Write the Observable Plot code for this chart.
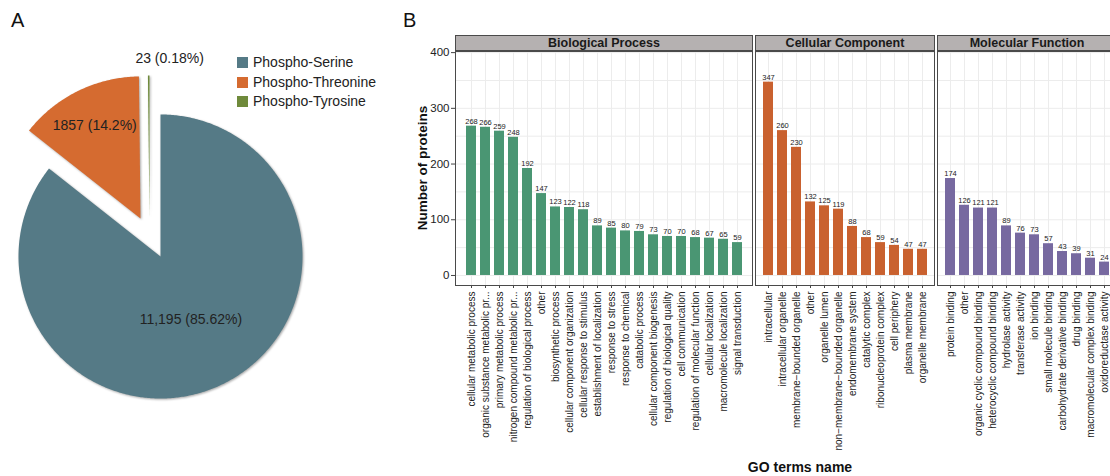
<!DOCTYPE html>
<html><head><meta charset="utf-8">
<script src="https://cdn.jsdelivr.net/npm/d3@7"></script>
<script src="https://cdn.jsdelivr.net/npm/@observablehq/plot@0.6"></script>
<style>
body{margin:0;background:#fff;font-family:Arial,"Liberation Sans",sans-serif;}
#root{position:relative;width:1110px;height:476px;overflow:hidden;background:#fff}
.abs{position:absolute}
.strip{position:absolute;top:35px;height:16px;background:#B5B1B1;border:1px solid #4a4a4a;box-sizing:border-box;font-weight:bold;font-size:12.5px;text-align:center;line-height:14px;color:#1a1a1a;white-space:nowrap;overflow:hidden}
.panelLetter{position:absolute;font-size:20px;color:#111;line-height:20px}
.leg{position:absolute;font-size:14px;color:#222;line-height:16px;white-space:nowrap}
.leg span{display:inline-block;width:11px;height:11px;margin-right:5px;vertical-align:-1px}
</style></head><body><div id="root"></div>
<script>
// ---------- Data ----------
const pieNames = ["Phospho-Serine", "Phospho-Threonine", "Phospho-Tyrosine"];
const pieCounts = [11195, 1857, 23];
const pieLabels = ["11,195 (85.62%)", "1857 (14.2%)", "23 (0.18%)"];

const bpTerms = ["cellular metabolic process", "organic substance metabolic pr...", "primary metabolic process",
  "nitrogen compound metabolic pr...", "regulation of biological process", "other", "biosynthetic process",
  "cellular component organization", "cellular response to stimulus", "establishment of localization",
  "response to stress", "response to chemical", "catabolic process", "cellular component biogenesis",
  "regulation of biological quality", "cell communication", "regulation of molecular function",
  "cellular localization", "macromolecule localization", "signal transduction"];
const bpCounts = [268, 266, 259, 248, 192, 147, 123, 122, 118, 89, 85, 80, 79, 73, 70, 70, 68, 67, 65, 59];

const ccTerms = ["intracellular", "intracellular organelle", "membrane\u2212bounded organelle", "other",
  "organelle lumen", "non\u2212membrane\u2212bounded organelle", "endomembrane system", "catalytic complex",
  "ribonucleoprotein complex", "cell periphery", "plasma membrane", "organelle membrane"];
const ccCounts = [347, 260, 230, 132, 125, 119, 88, 68, 59, 54, 47, 47];

const mfTerms = ["protein binding", "other", "organic cyclic compound binding", "heterocyclic compound binding",
  "hydrolase activity", "transferase activity", "ion binding", "small molecule binding",
  "carbohydrate derivative binding", "drug binding", "macromolecular complex binding", "oxidoreductase activity"];
const mfCounts = [174, 126, 121, 121, 89, 76, 73, 57, 43, 39, 31, 24];

const yTicks = [0, 100, 200, 300, 400];

// ---------- Styles ----------
const pieColors = ["#557A86", "#D56B30", "#6F8A3B"];
const bpColor = "#4A9673", ccColor = "#C9612F", mfColor = "#7769A0";
const FONT = "Arial, 'Liberation Sans', sans-serif";

const root = document.getElementById("root");
function addDiv(cls, html, css) {
  const d = document.createElement("div");
  d.className = cls; d.innerHTML = html; Object.assign(d.style, css); root.appendChild(d); return d;
}

// ---------- Pie (panel A) ----------
const R = 142, cx = 160, cy = 256;
const explode = [[0, 0], [-20, -38], [-11, -39]];
const labelCfg = [{f: 0.49, dx: 0}, {f: 0.73, dx: 0}, {f: 1.12, dx: 21}];
const arcs = d3.pie().sort(null).startAngle(0).endAngle(2 * Math.PI)(pieCounts);
const piePts = [], pieText = [];
arcs.forEach((a, i) => {
  const name = pieNames[i];
  const ox = cx + explode[i][0], oy = cy + explode[i][1];
  piePts.push({name, px: ox, py: oy});
  const steps = Math.max(2, Math.ceil((a.endAngle - a.startAngle) / 0.01));
  for (let k = 0; k <= steps; k++) {
    const t = a.startAngle + (a.endAngle - a.startAngle) * k / steps;
    piePts.push({name, px: ox + R * Math.sin(t), py: oy - R * Math.cos(t)});
  }
  piePts.push({name, px: ox, py: oy});
  const m = (a.startAngle + a.endAngle) / 2;
  pieText.push({text: pieLabels[i],
    px: ox + labelCfg[i].f * R * Math.sin(m) + labelCfg[i].dx,
    py: oy - labelCfg[i].f * R * Math.cos(m)});
});

const pie = Plot.plot({
  width: 400, height: 476, margin: 0,
  style: {fontFamily: FONT, background: "transparent"},
  x: {domain: [0, 400], range: [0, 400], axis: null},
  y: {domain: [0, 476], range: [0, 476], axis: null},
  color: {domain: pieNames, range: pieColors},
  marks: [
    Plot.line(piePts, {x: "px", y: "py", z: "name", fill: "name", stroke: "none"}),
    Plot.text(pieText, {x: "px", y: "py", text: "text", fontSize: 14, fill: "#222"})
  ]
});
d3.select(pie).selectAll("g[aria-label=line] path").style("filter", "drop-shadow(1px 1px 1.2px rgba(0,0,0,0.35))");
pie.style.position = "absolute"; pie.style.left = "0px"; pie.style.top = "0px";
root.appendChild(pie);

pieNames.forEach((n, i) => {
  addDiv("leg", `<span style="background:${pieColors[i]}"></span>${n}`, {left: "237px", top: (54 + i * 19.5) + "px"});
});

addDiv("panelLetter", "A", {left: "11px", top: "10px"});
addDiv("panelLetter", "B", {left: "403px", top: "10px"});

// ---------- Bar panels (panel B) ----------
const MT = 5, PH = 234, MB = 175, TOP = 51;
function barPanel(terms, counts, color, panelLeft, panelWidth, showY, title) {
  const data = terms.map((t, i) => ({term: t, n: counts[i]}));
  const ml = showY ? 55 : 1;
  const p = Plot.plot({
    width: ml + panelWidth + 1, height: MT + PH + MB,
    marginLeft: ml, marginRight: 1, marginTop: MT, marginBottom: MB,
    style: {fontFamily: FONT, background: "transparent", overflow: "visible", color: "#222"},
    x: {domain: terms, paddingInner: 0.3, paddingOuter: 0.25, label: null, axis: null},
    y: {domain: [-18, 402], label: null, axis: null},
    marks: [
      Plot.gridY(d3.range(0, 401, 50), {stroke: "#ececec", strokeOpacity: 1}),
      Plot.ruleX(terms, {x: d => d, stroke: "#ececec"}),
      Plot.barY(data, {x: "term", y: "n", fill: color}),
      Plot.text(data, {x: "term", y: "n", text: d => String(d.n), dy: -5, fontSize: 7.5, fill: "#222"}),
      Plot.axisX({tickRotate: -90, tickSize: 3, tickPadding: 3, fontSize: 10, label: null, stroke: "#444"}),
      showY ? Plot.axisY(yTicks, {tickSize: 4, tickPadding: 2, fontSize: 11.5, label: null, stroke: "#444"}) : null,
      Plot.frame({stroke: "#4a4a4a"})
    ]
  });
  p.style.position = "absolute";
  p.style.left = (panelLeft - ml) + "px";
  p.style.top = (TOP - MT) + "px";
  root.appendChild(p);
  addDiv("strip", title, {left: panelLeft + "px", width: (panelWidth + 1) + "px"});
}

barPanel(bpTerms, bpCounts, bpColor, 455, 297, true, "Biological Process");
barPanel(ccTerms, ccCounts, ccColor, 755, 179, false, "Cellular Component");
barPanel(mfTerms, mfCounts, mfColor, 937, 179, false, "Molecular Function");

addDiv("abs", "Number of proteins", {left: "323px", width: "200px", top: "160px", textAlign: "center",
  fontWeight: "bold", fontSize: "13.5px", lineHeight: "16px", color: "#111", transform: "rotate(-90deg)", transformOrigin: "50% 50%"});
addDiv("abs", "GO terms name", {left: "700px", width: "200px", top: "459px", textAlign: "center", fontWeight: "bold", fontSize: "14px", color: "#111"});
</script>
</body></html>
